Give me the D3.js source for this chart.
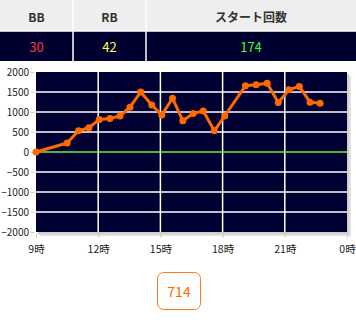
<!DOCTYPE html>
<html>
<head>
<meta charset="utf-8">
<script src="https://cdn.jsdelivr.net/npm/d3@7"></script>
<style>
  body { margin: 0; background: #fff; font-family: "Noto Sans CJK JP", "Noto Sans", sans-serif; }
</style>
</head>
<body>
<div id="chart"></div>
<script>
// header table
const headers = ["BB", "RB", "スタート回数"];
const headerValues = ["30", "42", "174"];
const valueColors = ["#ff3340", "#ffff40", "#33ff33"];

// slump graph data (time of day, difference in medals)
const times = ["9:00", "10:30", "11:03", "11:33", "12:03", "12:34", "13:03", "13:32", "14:03", "14:35",
  "15:04", "15:35", "16:05", "16:35", "17:04", "17:36", "18:06", "19:06", "19:37", "20:09",
  "20:41", "21:12", "21:42", "22:13", "22:42"];
const values = [0, 225, 530, 605, 815, 840, 900, 1120, 1500, 1175,
  925, 1345, 780, 965, 1025, 530, 900, 1655, 1680, 1720,
  1235, 1555, 1640, 1245, 1220];
const yTicks = [2000, 1500, 1000, 500, 0, -500, -1000, -1500, -2000];
const xTicks = [9, 12, 15, 18, 21, 24];
const xTickLabels = ["9時", "12時", "15時", "18時", "21時", "0時"];
const total = "714";

const W = 356, H = 324;
const svg = d3.select("#chart").append("svg")
    .attr("width", W)
    .attr("height", H);

// --- table ---
const colEdges = [0, 73, 146, 356];
const tbl = svg.append("g");
tbl.append("rect").attr("x", 0).attr("y", 0).attr("width", W).attr("height", 31).attr("fill", "#eeeeee");
tbl.append("rect").attr("x", 0).attr("y", 31).attr("width", W).attr("height", 30).attr("fill", "#000030");
headers.forEach((h, i) => {
    const cx = (colEdges[i] + colEdges[i + 1]) / 2;
    tbl.append("text")
        .attr("x", cx).attr("y", 16)
        .attr("text-anchor", "middle").attr("dominant-baseline", "central")
        .style("font-size", "12px").style("font-weight", "bold")
        .attr("fill", "#333")
        .text(h);
    tbl.append("text")
        .attr("x", cx).attr("y", 46)
        .attr("text-anchor", "middle").attr("dominant-baseline", "central")
        .style("font-size", "13px")
        .attr("fill", valueColors[i])
        .text(headerValues[i]);
});
[73, 146].forEach(x => {
    tbl.append("line").attr("x1", x).attr("x2", x).attr("y1", 0).attr("y2", 61)
        .attr("stroke", "#fff").attr("stroke-width", 1.5);
});
tbl.append("line").attr("x1", 0).attr("x2", W).attr("y1", 31).attr("y2", 31)
    .attr("stroke", "#fff").attr("stroke-width", 1.5);

// --- graph ---
const margin = {top: 72, left: 36, right: 9, bottom: 92};
const innerWidth = W - margin.left - margin.right;
const innerHeight = H - margin.top - margin.bottom;

const parseT = s => { const p = s.split(":"); return +p[0] + (+p[1]) / 60; };
const data = times.map((t, i) => ({h: parseT(t), v: values[i]}));

const xScale = d3.scaleLinear().domain([9, 24]).range([0, innerWidth]);
const yScale = d3.scaleLinear().domain([-2000, 2000]).range([innerHeight, 0]);

const g = svg.append("g").attr("transform", `translate(${margin.left},${margin.top})`);

// shadow
g.append("rect").attr("x", 4).attr("y", 4).attr("width", innerWidth).attr("height", innerHeight)
    .attr("fill", "#e2e2e2");
g.append("rect").attr("x", 2).attr("y", 2).attr("width", innerWidth).attr("height", innerHeight)
    .attr("fill", "#cfcfcf");
g.append("rect").attr("width", innerWidth).attr("height", innerHeight).attr("fill", "#000033");

// gridlines
g.append("g").selectAll("line")
    .data(yTicks.filter(d => d !== 0 && Math.abs(d) !== 2000))
    .enter().append("line")
    .attr("x1", 0).attr("x2", innerWidth)
    .attr("y1", d => yScale(d)).attr("y2", d => yScale(d))
    .attr("stroke", "#fff").attr("stroke-width", 1.5);
g.append("g").selectAll("line")
    .data(xTicks.slice(1, -1))
    .enter().append("line")
    .attr("x1", d => xScale(d)).attr("x2", d => xScale(d))
    .attr("y1", 0).attr("y2", innerHeight)
    .attr("stroke", "#fff").attr("stroke-width", 1.5);

// zero line
g.append("line")
    .attr("x1", 0).attr("x2", innerWidth)
    .attr("y1", yScale(0)).attr("y2", yScale(0))
    .attr("stroke", "#77ee44").attr("stroke-width", 1.5);

// y axis
const yAxis = d3.axisLeft(yScale).tickValues(yTicks).tickFormat(d3.format("d")).tickSize(3).tickPadding(2);
const yAxisG = g.append("g").attr("transform", "translate(-2,0)").call(yAxis);
yAxisG.select(".domain").remove();
yAxisG.selectAll("line").attr("stroke", "#ccc");
yAxisG.selectAll("text").style("font-size", "10px").style("font-family", "'Noto Sans CJK JP'").attr("fill", "#222");

// x axis
const xAxis = d3.axisBottom(xScale).tickValues(xTicks).tickFormat((d, i) => xTickLabels[i]).tickSize(4).tickPadding(8);
const xAxisG = g.append("g").attr("transform", `translate(0,${innerHeight + 2})`).call(xAxis);
xAxisG.select(".domain").attr("stroke", "#ddd");
xAxisG.selectAll("line").attr("stroke", "#ccc");
xAxisG.selectAll("text").style("font-size", "10.5px").style("font-family", "'Noto Sans CJK JP'").attr("fill", "#222");

// line
const lineGenerator = d3.line().x(d => xScale(d.h)).y(d => yScale(d.v));
g.append("path")
    .attr("d", lineGenerator(data))
    .attr("fill", "none")
    .attr("stroke", "#ff6a00")
    .attr("stroke-width", 3)
    .attr("stroke-linejoin", "round");
g.selectAll("circle")
    .data(data)
    .enter().append("circle")
    .attr("cx", d => xScale(d.h))
    .attr("cy", d => yScale(d.v))
    .attr("r", 3.5)
    .attr("fill", "#ff6a00");

// total box
svg.append("rect")
    .attr("x", 157.5).attr("y", 272.5).attr("width", 43).attr("height", 37)
    .attr("rx", 6).attr("fill", "#fff")
    .attr("stroke", "#ff7a1a").attr("stroke-width", 1);
svg.append("text")
    .attr("x", 179).attr("y", 291)
    .attr("text-anchor", "middle").attr("dominant-baseline", "central")
    .style("font-size", "14px")
    .attr("fill", "#ff6a00")
    .text(total);
</script>
</body>
</html>
